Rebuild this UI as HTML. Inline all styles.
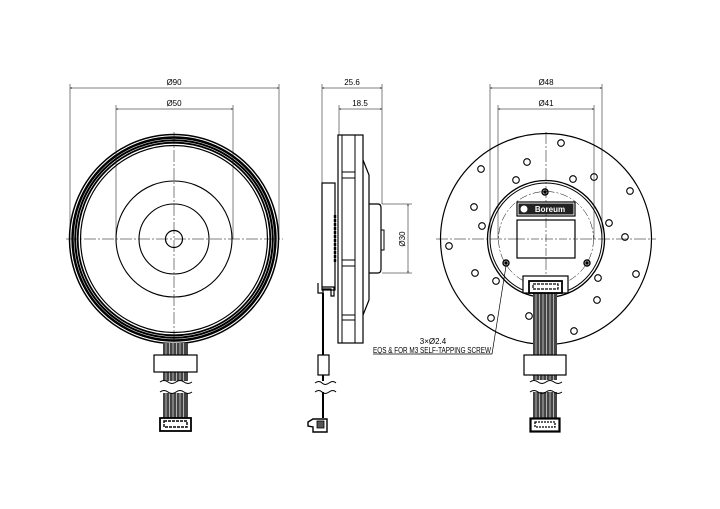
<!DOCTYPE html>
<html><head><meta charset="utf-8"><style>
html,body{margin:0;padding:0;background:#fff;}
svg{display:block}
text{font-family:"Liberation Sans",sans-serif;font-size:8px;fill:#000}
</style></head><body>
<svg width="720" height="509" viewBox="0 0 720 509" xmlns="http://www.w3.org/2000/svg">
<defs>
<marker id="ar" viewBox="0 0 10 10" refX="10" refY="5" markerWidth="7" markerHeight="4" orient="auto-start-reverse"><path d="M0,2 L10,5 L0,8" fill="#000"/></marker>
</defs>
<g fill="none" stroke="#000" stroke-width="1">
<!-- ===== LEFT VIEW ===== -->
<line x1="70" y1="84" x2="70" y2="239" stroke-width="0.5"/>
<line x1="279" y1="84" x2="279" y2="239" stroke-width="0.5"/>
<line x1="70" y1="88" x2="279" y2="88" stroke-width="0.5" marker-start="url(#ar)" marker-end="url(#ar)"/>
<line x1="116" y1="105" x2="116" y2="239" stroke-width="0.5"/>
<line x1="233" y1="105" x2="233" y2="239" stroke-width="0.5"/>
<line x1="116" y1="109" x2="233" y2="109" stroke-width="0.5" marker-start="url(#ar)" marker-end="url(#ar)"/>
<circle cx="174" cy="239" r="104.5" stroke-width="1.5"/>
<circle cx="174" cy="239" r="101.5" stroke-width="2.4"/>
<circle cx="174" cy="239" r="98.8" stroke-width="2"/>
<circle cx="174" cy="239" r="96.3" stroke-width="1.8"/>
<circle cx="174" cy="239" r="93.5" stroke-width="1.2"/>
<circle cx="174" cy="239" r="58" stroke-width="1.1"/>
<circle cx="174" cy="239" r="35" stroke-width="1.1"/>
<circle cx="174" cy="239" r="8.5" stroke-width="1.2"/>
<line x1="66" y1="239" x2="283" y2="239" stroke-width="0.5" stroke-dasharray="12,2,2,2"/>
<line x1="174" y1="132" x2="174" y2="346" stroke-width="0.5" stroke-dasharray="12,2,2,2"/>
<rect x="163" y="343" width="25" height="12" fill="#444" stroke="none"/>
<rect x="163" y="370" width="25" height="12" fill="#444" stroke="none"/>
<rect x="163" y="392" width="25" height="26" fill="#444" stroke="none"/>
<g stroke="#fff" stroke-width="0.6"><line x1="166" y1="343" x2="166" y2="418"/><line x1="169.5" y1="343" x2="169.5" y2="418"/><line x1="173" y1="343" x2="173" y2="418"/><line x1="176.5" y1="343" x2="176.5" y2="418"/><line x1="180" y1="343" x2="180" y2="418"/><line x1="183.5" y1="343" x2="183.5" y2="418"/></g>
<rect x="163" y="381" width="26" height="12" fill="#fff" stroke="none"/>
<path d="M160,382 q4,-3 8,0 t8,0 t8,0 t8,0"/><path d="M160,392 q4,-3 8,0 t8,0 t8,0 t8,0"/>
<rect x="154" y="355" width="43" height="17" fill="#fff" stroke-width="1.2"/>
<rect x="160" y="418" width="31" height="13" fill="#fff" stroke-width="1.8"/>
<rect x="164" y="421" width="23" height="6" stroke-width="1.4" stroke-dasharray="3,1"/>

<!-- ===== SIDE VIEW ===== -->
<line x1="322" y1="84" x2="322" y2="183" stroke-width="0.5"/>
<line x1="382" y1="84" x2="382" y2="204" stroke-width="0.5"/>
<line x1="322" y1="88" x2="382" y2="88" stroke-width="0.5" marker-start="url(#ar)" marker-end="url(#ar)"/>
<line x1="339" y1="105" x2="339" y2="135" stroke-width="0.5"/>
<line x1="339" y1="109" x2="382" y2="109" stroke-width="0.5" marker-start="url(#ar)" marker-end="url(#ar)"/>
<rect x="338" y="135" width="25" height="208" stroke-width="1.2"/>
<line x1="342" y1="135" x2="342" y2="343"/>
<line x1="355" y1="135" x2="355" y2="343"/>
<rect x="342" y="172" width="13" height="6"/>
<rect x="342" y="260" width="13" height="6"/>
<rect x="342" y="315" width="13" height="5"/>
<path d="M363,160 L369,175 L369,300 L363,315" stroke-width="1.2"/>
<path d="M369,204 L378,204 Q381,204 381,208 L381,269 Q381,273 378,273 L369,273" stroke-width="1.2"/>
<rect x="381" y="230" width="3" height="20"/>
<line x1="382" y1="204" x2="412" y2="204" stroke-width="0.5"/>
<line x1="382" y1="273" x2="412" y2="273" stroke-width="0.5"/>
<line x1="408" y1="204" x2="408" y2="273" stroke-width="0.5" marker-start="url(#ar)" marker-end="url(#ar)"/>
<rect x="322" y="183" width="13" height="107" stroke-width="1.2"/>
<line x1="335" y1="215" x2="335" y2="262" stroke-width="2.4" stroke-dasharray="3,1"/>
<path d="M318,283 L318,293 L323,293 L323,289 L331,289 L331,296 L334,296 L334,287 L322,287" stroke-width="1.2"/>
<line x1="323" y1="293" x2="323" y2="418" stroke-width="2"/>
<rect x="318" y="355" width="11" height="20" fill="#fff" stroke-width="1.2"/>
<rect x="318" y="381" width="12" height="11" fill="#fff" stroke="none"/>
<path d="M315,383 q4,-3 7,0 t7,0 t7,0"/><path d="M315,392 q4,-3 7,0 t7,0 t7,0"/>
<path d="M308,422 L313,419 L327,419 L327,432 L313,432 L313,427 L308,426 Z" stroke-width="1.4"/>
<rect x="317" y="421" width="7" height="7" fill="#555" stroke-width="0.8"/>

<!-- ===== RIGHT VIEW ===== -->
<line x1="490" y1="84" x2="490" y2="239" stroke-width="0.5"/>
<line x1="602" y1="84" x2="602" y2="239" stroke-width="0.5"/>
<line x1="490" y1="88" x2="602" y2="88" stroke-width="0.5" marker-start="url(#ar)" marker-end="url(#ar)"/>
<line x1="498" y1="105" x2="498" y2="239" stroke-width="0.5"/>
<line x1="594" y1="105" x2="594" y2="239" stroke-width="0.5"/>
<line x1="498" y1="109" x2="594" y2="109" stroke-width="0.5" marker-start="url(#ar)" marker-end="url(#ar)"/>
<circle cx="546" cy="239" r="105.5" stroke-width="1.2"/>
<circle cx="546" cy="239" r="58.5" stroke-width="1.3"/>
<circle cx="546" cy="239" r="56" stroke-width="1"/>
<circle cx="546" cy="239" r="47.5" stroke-width="0.5" stroke-dasharray="8,2,2,2"/>
<line x1="436" y1="239" x2="656" y2="239" stroke-width="0.5" stroke-dasharray="12,2,2,2"/>
<line x1="546" y1="132" x2="546" y2="300" stroke-width="0.5" stroke-dasharray="12,2,2,2"/>
<g stroke-width="1.1">
<circle cx="561" cy="143" r="3.3"/><circle cx="527" cy="162" r="3.3"/><circle cx="481" cy="169" r="3.3"/>
<circle cx="516" cy="180" r="3.3"/><circle cx="573" cy="179" r="3.3"/><circle cx="594" cy="177" r="3.3"/>
<circle cx="630" cy="191" r="3.3"/><circle cx="474" cy="207" r="3.3"/><circle cx="482" cy="226" r="3.3"/>
<circle cx="609" cy="223" r="3.3"/><circle cx="625" cy="237" r="3.3"/><circle cx="449" cy="246" r="3.3"/>
<circle cx="475" cy="273" r="3.3"/><circle cx="496" cy="281" r="3.3"/><circle cx="598" cy="278" r="3.3"/>
<circle cx="636" cy="274" r="3.3"/><circle cx="597" cy="300" r="3.3"/><circle cx="529" cy="316" r="3.3"/>
<circle cx="491" cy="318" r="3.3"/><circle cx="574" cy="331" r="3.3"/>
</g>
<g stroke-width="1.4"><circle cx="545" cy="192" r="3"/><circle cx="506" cy="263" r="3"/><circle cx="587" cy="263" r="3"/></g>
<circle cx="545" cy="192" r="1.2" fill="#000"/><circle cx="506" cy="263" r="1.2" fill="#000"/><circle cx="587" cy="263" r="1.2" fill="#000"/>
<rect x="517" y="202" width="58" height="14" stroke-width="1.2"/>
<rect x="518.5" y="203.5" width="55" height="11" fill="#222" stroke="none"/>
<circle cx="524" cy="209" r="3.5" fill="#fff" stroke="none"/>
<rect x="517" y="220" width="58" height="38" fill="#fff" stroke-width="1.2"/>
<line x1="546" y1="220" x2="546" y2="258" stroke-width="0.5" stroke-dasharray="8,2,2,2"/>
<line x1="517" y1="239" x2="575" y2="239" stroke-width="0.5" stroke-dasharray="8,2,2,2"/>
<rect x="533" y="293" width="24" height="62" fill="#444" stroke="none"/>
<rect x="533" y="375" width="24" height="5" fill="#444" stroke="none"/>
<rect x="533" y="392" width="24" height="26" fill="#444" stroke="none"/>
<g stroke="#fff" stroke-width="0.6"><line x1="536" y1="293" x2="536" y2="418"/><line x1="539.5" y1="293" x2="539.5" y2="418"/><line x1="543" y1="293" x2="543" y2="418"/><line x1="546.5" y1="293" x2="546.5" y2="418"/><line x1="550" y1="293" x2="550" y2="418"/><line x1="553.5" y1="293" x2="553.5" y2="418"/></g>
<path d="M530,382 q4,-3 8,0 t8,0 t8,0 t8,0"/><path d="M530,392 q4,-3 8,0 t8,0 t8,0 t8,0"/>
<rect x="523" y="276" width="45" height="17" fill="#fff" stroke-width="1.2"/>
<rect x="529" y="281" width="33" height="12" fill="#fff" stroke-width="1.8"/>
<rect x="533" y="284" width="25" height="5" stroke-width="1.2" stroke-dasharray="3,1"/>
<rect x="524" y="355" width="42" height="20" fill="#fff" stroke-width="1.2"/>
<rect x="530.5" y="418.5" width="29" height="13" fill="#fff" stroke-width="2.2"/>
<rect x="535" y="422" width="20" height="5" stroke-width="1.3" stroke-dasharray="2,1"/>
<!-- leader -->
<path d="M373,354 L492,354 L506,266" stroke-width="0.7"/>
</g>
<text x="174" y="85" text-anchor="middle">Ø90</text>
<text x="174" y="106" text-anchor="middle">Ø50</text>
<text x="352" y="85" text-anchor="middle">25.6</text>
<text x="360" y="106" text-anchor="middle">18.5</text>
<text transform="translate(405,239) rotate(-90)" text-anchor="middle">Ø30</text>
<text x="546" y="85" text-anchor="middle">Ø48</text>
<text x="546" y="106" text-anchor="middle">Ø41</text>
<text x="550" y="212" text-anchor="middle" style="font-size:8px;font-weight:bold;fill:#fff">Boreum</text>
<text x="433" y="344" text-anchor="middle">3×Ø2.4</text>
<text x="373" y="353" textLength="118" lengthAdjust="spacingAndGlyphs">EQS &amp; FOR M3 SELF-TAPPING SCREW</text>
</svg>
</body></html>
